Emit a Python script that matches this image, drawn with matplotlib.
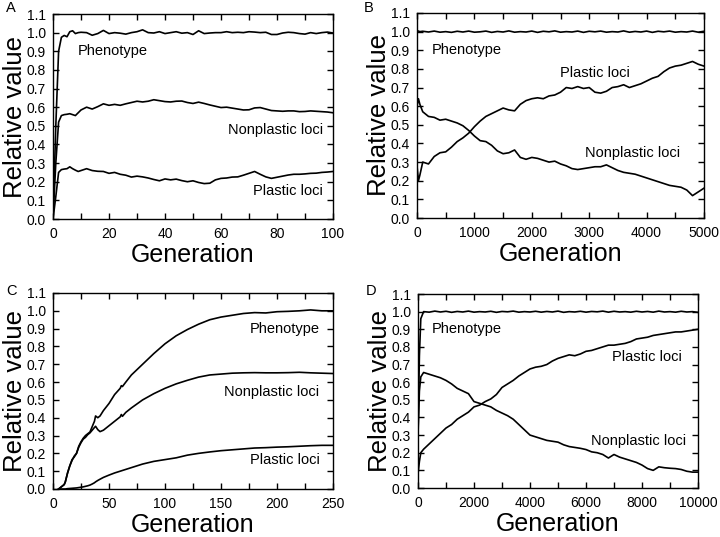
import numpy as np
import matplotlib
matplotlib.use("Agg")
import matplotlib.pyplot as plt
from matplotlib.ticker import MultipleLocator

plt.rcParams['font.family'] = ['Liberation Sans', 'DejaVu Sans']

# ---------------- Panel A ----------------
A_gen = [0, 1, 2, 3, 4, 5, 6, 7, 8, 9,
         10, 12, 14, 16, 18, 20, 22, 24, 26, 28,
         30, 32, 34, 36, 38, 40, 42, 44, 46, 48,
         50, 52, 54, 56, 58, 60, 62, 64, 66, 68,
         70, 72, 74, 76, 78, 80, 82, 84, 86, 88,
         90, 92, 94, 96, 98, 100]
A_phen = [0.0, 0.5, 0.9, 0.975, 0.985, 0.978, 1.005, 1.01, 0.995, 1.0,
          1.002, 1.0, 0.986, 0.995, 1.012, 0.995, 1.0, 0.997, 0.992, 1.0,
          1.005, 1.015, 1.0, 0.998, 1.005, 0.995, 1.0, 1.005, 0.997, 1.0,
          0.99, 1.01, 0.995, 0.998, 1.0, 1.0, 1.005, 1.0, 1.002, 1.0,
          1.005, 1.003, 1.0, 1.002, 0.99, 0.99, 0.998, 1.002, 1.0, 0.995,
          0.992, 1.0, 0.995, 1.0, 1.003, 0.998]
A_nonp = [0.0, 0.3, 0.52, 0.555, 0.56, 0.562, 0.565, 0.56, 0.555, 0.57,
          0.585, 0.6, 0.59, 0.603, 0.618, 0.61, 0.615, 0.61, 0.618, 0.625,
          0.632, 0.628, 0.632, 0.64, 0.635, 0.63, 0.628, 0.632, 0.633, 0.625,
          0.62, 0.627, 0.62, 0.612, 0.605, 0.598, 0.6, 0.595, 0.59, 0.585,
          0.586, 0.596, 0.598, 0.59, 0.582, 0.58, 0.578, 0.58, 0.58, 0.576,
          0.577, 0.58, 0.578, 0.576, 0.574, 0.57]
A_plas = [0.0, 0.12, 0.25, 0.265, 0.268, 0.27, 0.28, 0.27, 0.262, 0.255,
          0.26, 0.27, 0.26, 0.256, 0.255, 0.245, 0.25, 0.24, 0.235, 0.225,
          0.23, 0.226, 0.22, 0.212, 0.205, 0.215, 0.21, 0.214, 0.206, 0.2,
          0.205, 0.196, 0.19, 0.192, 0.21, 0.218, 0.22, 0.225, 0.226, 0.235,
          0.245, 0.255, 0.24, 0.226, 0.218, 0.224, 0.23, 0.236, 0.24, 0.24,
          0.242, 0.245, 0.246, 0.25, 0.252, 0.255]

# ---------------- Panel B ----------------
B_gen = [0, 25, 50,
         100, 200, 300, 400, 500, 600, 700, 800, 900, 1000,
         1100, 1200, 1300, 1400, 1500, 1600, 1700, 1800, 1900, 2000,
         2100, 2200, 2300, 2400, 2500, 2600, 2700, 2800, 2900, 3000,
         3100, 3200, 3300, 3400, 3500, 3600, 3700, 3800, 3900, 4000,
         4100, 4200, 4300, 4400, 4500, 4600, 4700, 4800, 4900, 5000]
B_phen = [1.005, 1.003, 1.0,
          1.002, 0.998, 1.003, 0.997, 1.0, 0.996, 1.002, 0.998, 1.003, 0.997,
          0.999, 1.003, 0.996, 1.001, 0.998, 1.004, 0.997, 1.0, 0.998, 1.003,
          0.996, 1.002, 0.999, 1.004, 0.997, 1.0, 0.998, 1.003, 0.996, 1.002,
          0.999, 1.003, 0.997, 1.0, 0.998, 1.004, 0.997, 1.001, 0.998, 1.003,
          0.996, 1.002, 0.999, 1.003, 0.997, 1.0, 0.998, 1.003, 0.997, 1.002]
B_plas = [0.28, 0.2, 0.23,
          0.30, 0.29, 0.33, 0.35, 0.355, 0.38, 0.41, 0.43, 0.455, 0.49,
          0.52, 0.545, 0.56, 0.575, 0.59, 0.58, 0.575, 0.61, 0.63, 0.64,
          0.645, 0.64, 0.655, 0.66, 0.675, 0.7, 0.695, 0.705, 0.695, 0.7,
          0.675, 0.67, 0.68, 0.7, 0.705, 0.715, 0.7, 0.71, 0.72, 0.735,
          0.75, 0.76, 0.785, 0.805, 0.815, 0.82, 0.83, 0.84, 0.825, 0.815]
B_nonp = [0.6, 0.64, 0.61,
          0.57, 0.545, 0.54, 0.525, 0.53, 0.52, 0.51, 0.495, 0.47, 0.44,
          0.415, 0.41, 0.39, 0.36, 0.345, 0.35, 0.365, 0.325, 0.315, 0.325,
          0.32, 0.31, 0.3, 0.305, 0.29, 0.28, 0.265, 0.26, 0.265, 0.27,
          0.275, 0.275, 0.285, 0.27, 0.255, 0.245, 0.24, 0.235, 0.225, 0.215,
          0.205, 0.195, 0.185, 0.175, 0.17, 0.165, 0.15, 0.12, 0.14, 0.16]

# ---------------- Panel C ----------------
C_gen = [5, 8, 10, 11, 13,
         15, 17, 19, 21, 23,
         25, 27, 29, 31, 33,
         35, 37, 38, 40, 42,
         45, 50, 55, 60, 61,
         62, 65, 70, 80, 90,
         100, 110, 120, 130, 140,
         150, 160, 170, 180, 190,
         200, 210, 220, 230, 240,
         250]
C_phen = [0.0, 0.015, 0.025, 0.04, 0.09,
          0.13, 0.16, 0.185, 0.2, 0.24,
          0.265, 0.285, 0.3, 0.31, 0.32,
          0.35, 0.38, 0.41, 0.40, 0.41,
          0.44, 0.48, 0.53, 0.565, 0.58,
          0.575, 0.6, 0.64, 0.70, 0.76,
          0.815, 0.86, 0.895, 0.925, 0.95,
          0.965, 0.975, 0.985, 0.99, 0.988,
          0.995, 0.997, 1.0, 1.005, 1.0,
          1.0]
C_nonp = [0.0, 0.015, 0.025, 0.04, 0.09,
          0.13, 0.165, 0.18, 0.2, 0.235,
          0.26, 0.28, 0.29, 0.305, 0.315,
          0.33, 0.345, 0.352, 0.333, 0.322,
          0.33, 0.355, 0.38, 0.405, 0.418,
          0.408, 0.43, 0.455, 0.5, 0.535,
          0.565, 0.59, 0.61, 0.628, 0.64,
          0.645, 0.65, 0.652, 0.653, 0.652,
          0.652, 0.653, 0.655, 0.652, 0.65,
          0.648]
C_plas = [0.0, 0.0, 0.0, 0.0, 0.002,
          0.003, 0.004, 0.005, 0.006, 0.008,
          0.01, 0.012, 0.015, 0.018, 0.022,
          0.028, 0.035, 0.04, 0.048, 0.055,
          0.065, 0.078, 0.09, 0.1, 0.102,
          0.104, 0.11, 0.12, 0.14, 0.155,
          0.165, 0.175, 0.19, 0.2, 0.208,
          0.215, 0.22, 0.225, 0.23, 0.232,
          0.235, 0.237, 0.24, 0.243, 0.245,
          0.245]

# ---------------- Panel D ----------------
D_gen = [0, 50, 100,
         200, 400, 600, 800, 1000, 1200, 1400, 1600, 1800, 2000,
         2200, 2400, 2600, 2800, 3000, 3200, 3400, 3600, 3800, 4000,
         4200, 4400, 4600, 4800, 5000, 5200, 5400, 5600, 5800, 6000,
         6200, 6400, 6600, 6800, 7000, 7200, 7400, 7600, 7800, 8000,
         8200, 8400, 8600, 8800, 9000, 9200, 9400, 9600, 9800, 10000]
D_phen = [0.3, 0.75, 0.96,
          1.0, 0.997, 1.003, 0.998, 1.002, 0.996, 1.001, 0.998, 1.003, 0.997,
          1.0, 0.998, 1.002, 0.996, 1.001, 0.999, 1.003, 0.997, 1.0, 0.998,
          1.002, 0.997, 1.001, 0.998, 1.003, 0.996, 1.0, 0.998, 1.002, 0.997,
          1.001, 0.999, 1.003, 0.997, 1.002, 0.998, 1.0, 0.997, 1.002, 0.998,
          1.001, 0.997, 1.003, 0.998, 1.0, 0.997, 1.002, 0.998, 1.0, 0.996]
D_plas = [0.08, 0.15, 0.2,
          0.22, 0.25, 0.28, 0.31, 0.34, 0.36, 0.39, 0.41, 0.43, 0.46,
          0.47, 0.49, 0.505, 0.53, 0.57, 0.59, 0.61, 0.635, 0.655, 0.675,
          0.685, 0.69, 0.70, 0.72, 0.735, 0.745, 0.755, 0.75, 0.76, 0.775,
          0.78, 0.79, 0.80, 0.81, 0.81, 0.815, 0.82, 0.83, 0.845, 0.85,
          0.855, 0.865, 0.87, 0.875, 0.88, 0.885, 0.885, 0.89, 0.895, 0.9]
D_nonp = [0.3, 0.55, 0.63,
          0.655, 0.645, 0.635, 0.625, 0.61, 0.59, 0.565, 0.55, 0.535, 0.49,
          0.48, 0.47, 0.46, 0.44, 0.425, 0.41, 0.39, 0.36, 0.33, 0.30,
          0.29, 0.28, 0.27, 0.265, 0.26, 0.245, 0.235, 0.23, 0.225, 0.218,
          0.205, 0.2, 0.19, 0.17, 0.19, 0.175, 0.165, 0.155, 0.145, 0.13,
          0.11, 0.1, 0.12, 0.115, 0.112, 0.11, 0.105, 0.095, 0.09, 0.09]

panel_letters = ["A", "B", "C", "D"]
y_ticks = [0.0, 0.1, 0.2, 0.3, 0.4, 0.5, 0.6, 0.7, 0.8, 0.9, 1.0, 1.1]

W, H = 720, 537
fig = plt.figure(figsize=(W / 100, H / 100), dpi=100)

def px_axes(l, t, r, b):
    return fig.add_axes([l / W, 1 - b / H, (r - l) / W, (b - t) / H])

panels = [
    dict(rect=(53, 14, 333, 219), gen=A_gen, series=[A_phen, A_nonp, A_plas],
         xmax=100, major=20, minor=10,
         labels=[("Phenotype", 9, 0.90, "left"), ("Nonplastic loci", 96.5, 0.48, "right"),
                 ("Plastic loci", 96.5, 0.15, "right")],
         letter_pos=(6, 8)),
    dict(rect=(417, 13, 704, 218), gen=B_gen, series=[B_phen, B_plas, B_nonp],
         xmax=5000, major=1000, minor=500,
         labels=[("Phenotype", 260, 0.90, "left"), ("Plastic loci", 3100, 0.78, "center"),
                 ("Nonplastic loci", 3750, 0.35, "center")],
         letter_pos=(364, 8)),
    dict(rect=(53, 293, 333, 489), gen=C_gen, series=[C_phen, C_nonp, C_plas],
         xmax=250, major=50, minor=25,
         labels=[("Phenotype", 238, 0.90, "right"), ("Nonplastic loci", 238, 0.545, "right"),
                 ("Plastic loci", 238, 0.16, "right")],
         letter_pos=(6, 291)),
    dict(rect=(418, 294, 698, 488), gen=D_gen, series=[D_phen, D_plas, D_nonp],
         xmax=10000, major=2000, minor=1000,
         labels=[("Phenotype", 500, 0.90, "left"), ("Plastic loci", 8180, 0.74, "center"),
                 ("Nonplastic loci", 7890, 0.265, "center")],
         letter_pos=(366, 291)),
]

for p, letter in zip(panels, panel_letters):
    ax = px_axes(*p["rect"])
    for s in p["series"]:
        ax.plot(p["gen"], s, color="black", lw=1.2, solid_joinstyle="round")
    ax.set_xlim(0, p["xmax"])
    ax.set_ylim(0, 1.1)
    ax.set_yticks(y_ticks)
    ax.set_yticklabels([f"{v:.1f}" for v in y_ticks])
    ax.xaxis.set_major_locator(MultipleLocator(p["major"]))
    ax.xaxis.set_minor_locator(MultipleLocator(p["minor"]))
    ax.tick_params(axis="both", which="both", direction="in", top=True, right=True,
                   length=4, width=1, labelsize=10)
    ax.tick_params(axis="x", pad=6)
    ax.tick_params(axis="y", pad=5)
    for sp in ax.spines.values():
        sp.set_linewidth(1.0)
    ax.set_xlabel("Generation", fontsize=18, labelpad=1.5)
    ax.set_ylabel("Relative value", fontsize=18.5, labelpad=0)
    for txt, x, y, ha in p["labels"]:
        ax.text(x, y, txt, fontsize=10.5, ha=ha, va="center")
    fig.text(p["letter_pos"][0] / W, 1 - p["letter_pos"][1] / H, letter,
             fontsize=10.5, ha="left", va="center")

fig.savefig("out.png", dpi=100)
